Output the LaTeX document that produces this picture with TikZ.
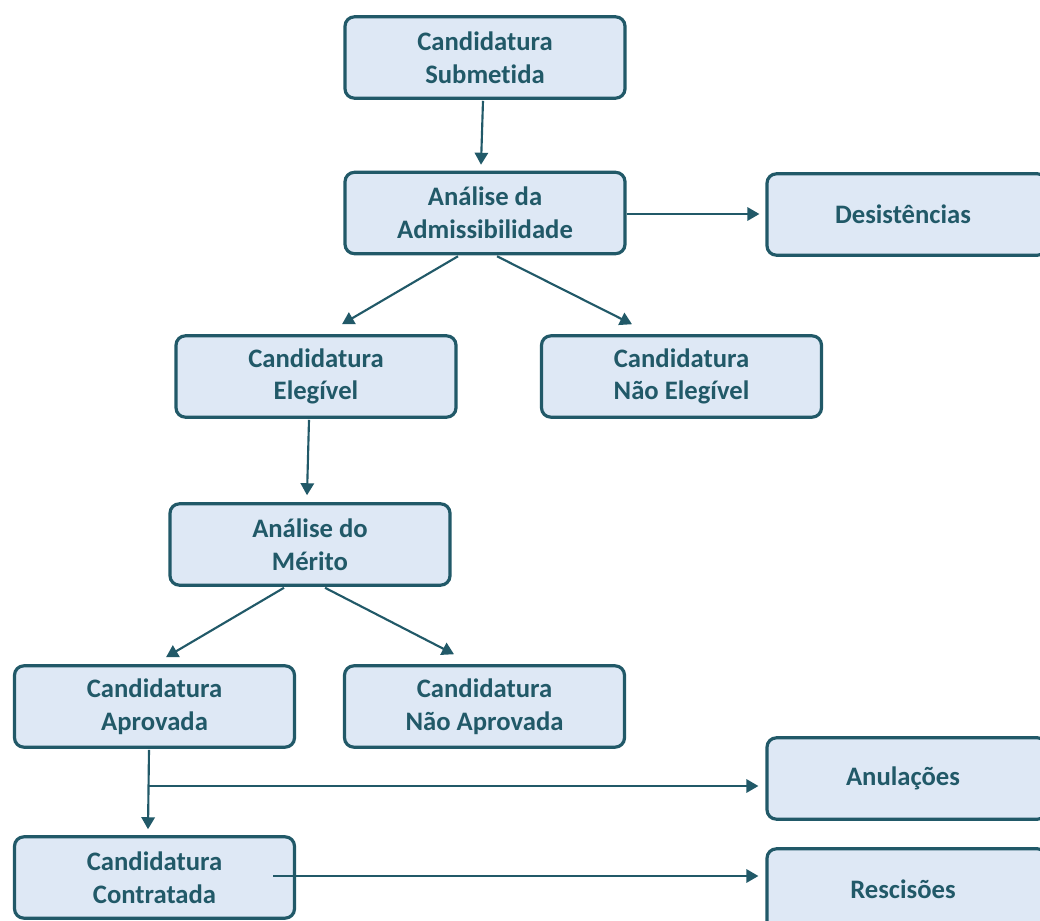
\documentclass[tikz,border=0pt]{standalone}
\usepackage{fontspec}
\setmainfont{Carlito}[Ligatures={NoCommon}]
\usetikzlibrary{arrows.meta,calc}
\definecolor{edge}{HTML}{215968}
\definecolor{boxfill}{HTML}{DEE8F5}
\begin{document}
\begin{tikzpicture}[x=0.75pt,y=-0.75pt,
  box/.style={draw=edge,fill=boxfill,line width=2.4pt,rounded corners=7pt,
    minimum width=210pt,minimum height=61pt,inner sep=0pt,align=center,
    text=edge,font=\fontsize{20}{24.5}\selectfont\bfseries},
  conn/.style={draw=edge,line width=1.6pt,-{Triangle[length=9pt,width=10pt]}}]
\useasboundingbox (0,0) rectangle (1040,921);
\clip (0,0) rectangle (1040,921);
\node[box] (sub) at (485,57.5) {Candidatura\\Submetida};
\node[box] (adm) at (485,213) {Análise da\\Admissibilidade};
\node[box] (des) at (907,214.5) {\hspace*{-6pt}Desistências};
\node[box] (eleg) at (316,376.5) {Candidatura\\Elegível};
\node[box] (neleg) at (681.5,376.5) {Candidatura\\Não Elegível};
\node[box] (mer) at (310,544.5) {Análise do\\Mérito};
\node[box] (apr) at (154.5,706.5) {Candidatura\\Aprovada};
\node[box] (napr) at (484.5,706.5) {Candidatura\\Não Aprovada};
\node[box] (anul) at (907,778.5) {\hspace*{-6pt}Anulações};
\node[box] (con) at (154.5,877.5) {Candidatura\\Contratada};
\node[box] (res) at (907,889.5) {\hspace*{-6pt}Rescisões};
\draw[conn] ($(sub.south)+(-2,1)$) -- ($(adm.north)+(-4,-6)$);
\draw[conn] ($(adm.east)+(0,1)$) -- ($(adm.east -| des.west)+(-6,1)$);
\draw[conn] ($(adm.south)+(-27,1)$) -- ($(eleg.north)+(26,-10)$);
\draw[conn] ($(adm.south)+(12,1)$) -- ($(neleg.north)+(-49.5,-10)$);
\draw[conn] ($(eleg.south)+(-7,1)$) -- ($(mer.north)+(-3,-7)$);
\draw[conn] ($(mer.south)+(-26,1)$) -- ($(apr.north)+(11.5,-7)$);
\draw[conn] ($(mer.south)+(15,1)$) -- ($(napr.north)+(-30.5,-10)$);
\draw[conn] ($(apr.south)+(-5.5,1)$) -- ($(con.north)+(-6.5,-6)$);
\coordinate (br) at ($(apr.center)+(-5.5,79.5)$);
\draw[conn] (br) -- ($(br -| anul.west)+(-7,0)$);
\draw[conn] ($(con.center)+(118.5,-1.5)$) -- ($(res.west)+(-7,-13.5)$);
\end{tikzpicture}
\end{document}
